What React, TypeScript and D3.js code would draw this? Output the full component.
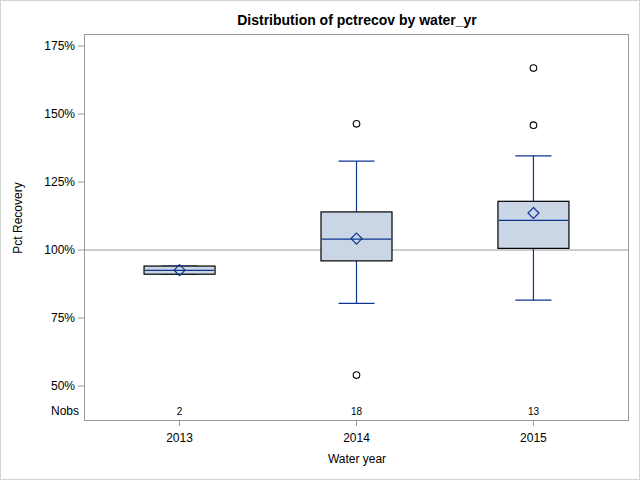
import React from 'react';
import * as d3 from 'd3';

const years = ['2013', '2014', '2015'];
const nobs = [2, 18, 13];
const q1 = [91.1, 96.0, 100.6];
const median = [92.5, 104.0, 110.9];
const q3 = [94.1, 114.0, 117.9];
const mean = [92.6, 104.2, 113.6];
const whiskerLo = [91.1, 80.4, 81.6];
const whiskerHi = [94.1, 132.7, 134.6];
const outliers = [[], [146.4, 54.0], [166.9, 145.9]];
const yTicks = [50, 75, 100, 125, 150, 175];

const W = 640;
const H = 480;
const frame = { left: 84, top: 34, right: 629, bottom: 420 };
const lineBlue = '#0E3590';
const fillBox = '#CAD5E5';
const axisGray = '#9A9A9A';
const font = '"Liberation Sans", Arial, sans-serif';

const App: React.FC = () => {
  const x = d3.scalePoint<string>()
    .domain(years)
    .range([frame.left, frame.right])
    .padding(0.54);

  const y = d3.scaleLinear()
    .domain([50, 175])
    .range([386, 46]);

  const boxW = 71;
  const capW = 36;

  return (
    <div style={{ position: 'absolute', left: 0, top: 0 }}>
      <svg width={W} height={H} style={{ display: 'block', fontFamily: font }}>
        <rect x={0.5} y={0.5} width={W - 1} height={H - 1} fill="#fff" stroke="#D4D4D4" />
        <text x={357} y={25} textAnchor="middle" fontSize={14} fontWeight="bold" fill="#000">
          Distribution of pctrecov by water_yr
        </text>

        {/* reference line */}
        <line x1={frame.left} x2={frame.right} y1={y(100)} y2={y(100)} stroke={axisGray} strokeWidth={1} />

        {years.map((yr, i) => {
          const cx = x(yr) as number;
          return (
            <g key={yr}>
              <line x1={cx} x2={cx} y1={y(whiskerHi[i])} y2={y(q3[i])} stroke={lineBlue} strokeWidth={1.2} />
              <line x1={cx} x2={cx} y1={y(q1[i])} y2={y(whiskerLo[i])} stroke={lineBlue} strokeWidth={1.2} />
              <line x1={cx - capW / 2} x2={cx + capW / 2} y1={y(whiskerHi[i])} y2={y(whiskerHi[i])} stroke={lineBlue} strokeWidth={1.2} />
              <line x1={cx - capW / 2} x2={cx + capW / 2} y1={y(whiskerLo[i])} y2={y(whiskerLo[i])} stroke={lineBlue} strokeWidth={1.2} />
              <rect
                x={cx - boxW / 2}
                y={y(q3[i])}
                width={boxW}
                height={y(q1[i]) - y(q3[i])}
                fill={fillBox}
                stroke="#000"
                strokeWidth={1.2}
              />
              <line x1={cx - boxW / 2 + 1} x2={cx + boxW / 2 - 1} y1={y(median[i])} y2={y(median[i])} stroke={lineBlue} strokeWidth={1.2} />
              <path
                d={`M${cx},${y(mean[i]) - 5.5} L${cx + 5.5},${y(mean[i])} L${cx},${y(mean[i]) + 5.5} L${cx - 5.5},${y(mean[i])} Z`}
                fill="none"
                stroke={lineBlue}
                strokeWidth={1.2}
              />
              {outliers[i].map((v, j) => (
                <circle key={j} cx={cx} cy={y(v)} r={3.3} fill="none" stroke="#000" strokeWidth={1.1} />
              ))}
              <text x={cx} y={415} textAnchor="middle" fontSize={10} fill="#000">{nobs[i]}</text>
              <line x1={cx} x2={cx} y1={frame.bottom} y2={frame.bottom + 6} stroke={axisGray} />
              <text x={cx} y={442} textAnchor="middle" fontSize={12} fill="#000">{yr}</text>
            </g>
          );
        })}

        {/* frame */}
        <rect
          x={frame.left + 0.5}
          y={frame.top + 0.5}
          width={frame.right - frame.left - 1}
          height={frame.bottom - frame.top}
          fill="none"
          stroke={axisGray}
        />

        {yTicks.map(t => (
          <g key={t}>
            <line x1={frame.left - 6} x2={frame.left} y1={y(t)} y2={y(t)} stroke={axisGray} />
            <text x={frame.left - 9} y={y(t) + 4} textAnchor="end" fontSize={12} fill="#000">{t}%</text>
          </g>
        ))}
        <text x={frame.left - 5} y={415} textAnchor="end" fontSize={12} fill="#000">Nobs</text>

        <text x={357} y={463} textAnchor="middle" fontSize={12} fill="#000">Water year</text>
        <text transform={`translate(22,${218}) rotate(-90)`} textAnchor="middle" fontSize={12} fill="#000">
          Pct Recovery
        </text>
      </svg>
    </div>
  );
};

export default App;
